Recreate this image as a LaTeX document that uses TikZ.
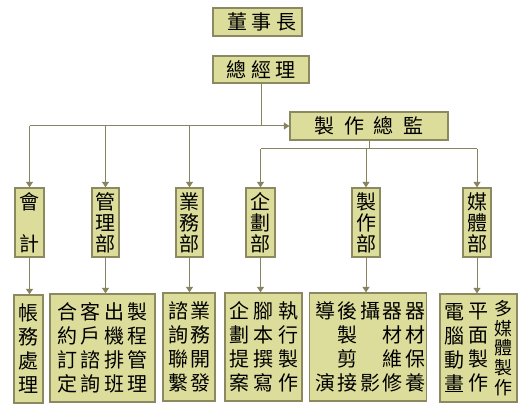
\documentclass[tikz,border=0pt]{standalone}
\usepackage{fontspec}
\newfontfamily\cjk{Noto Sans CJK TC}
\usetikzlibrary{arrows.meta}
\definecolor{boxfill}{RGB}{220,220,155}
\definecolor{boxline}{RGB}{140,136,96}
\definecolor{conline}{RGB}{135,130,95}
\newcommand\vc[2][23.5pt]{\parbox[c]{#1}{\centering #2}}
\begin{document}
\begin{tikzpicture}[x=1pt,y=-1pt,
  box/.style={draw=boxline, fill=boxfill, line width=1.2pt, inner sep=0pt, anchor=center},
  topbox/.style={box, font=\cjk\fontsize{20}{24}\selectfont},
  midbox/.style={box, align=center, font=\cjk\fontsize{20}{21}\selectfont, minimum height=69pt},
  listbox/.style={box, font=\cjk\fontsize{20}{24}\selectfont, minimum height=108pt},
  conn/.style={draw=conline, line width=1pt},
  arr/.style={conn, -{Triangle[width=7pt,length=5.5pt]}}]
\fill[white] (0,0) rectangle (527,411);
\useasboundingbox (0,0) rectangle (527,411);

% top level
\node[topbox, minimum width=89pt, minimum height=28pt] (chair) at (257.5,22) {\hspace{8pt}董\hspace{4.5pt}事\hspace{4.5pt}長};
\node[topbox, minimum width=96pt, minimum height=27pt] (gm) at (261,69.5) {總\hspace{4.5pt}經\hspace{4.5pt}理};
\node[topbox, minimum width=158pt, minimum height=28pt] (pd) at (369,126) {製\hspace{9.5pt}作\hspace{9.5pt}總\hspace{9.5pt}監};

% departments
\node[midbox, minimum width=29pt] (acct) at (29.5,222.5) {會\\\mbox{}\\計};
\node[midbox, minimum width=27pt] (mgmt) at (105.5,222.5) {管\\理\\部};
\node[midbox, minimum width=27pt] (biz) at (189.5,222.5) {業\\務\\部};
\node[midbox, minimum width=29pt] (plan) at (260.5,222.5) {企\\劃\\部};
\node[midbox, minimum width=28pt] (prod) at (366,222.5) {製\\作\\部};
\node[midbox, minimum width=28pt] (media) at (477,222.5) {媒\\體\\部};

% task lists
\node[listbox, minimum width=29pt] (l1) at (28.5,349) {\vc{帳\\務\\處\\理}};
\node[listbox, minimum width=105pt] (l2) at (102.5,348) {\vc{合\\約\\訂\\定}\vc{客\\戶\\諮\\詢}\vc{出\\機\\排\\班}\vc{製\\程\\管\\理}};
\node[listbox, minimum width=52pt] (l3) at (189,347) {\vc[22pt]{諮\\詢\\聯\\繫}\vc[22pt]{業\\務\\開\\發}};
\node[listbox, minimum width=77pt] (l4) at (263.5,347) {\vc[24.5pt]{企\\劃\\提\\案}\vc[24.5pt]{腳\\本\\撰\\寫}\vc[24.5pt]{執\\行\\製\\作}};
\node[listbox, minimum width=112pt] (l5) at (368,347) {\hspace{4pt}\vc[22.5pt]{導\\\mbox{}\\\mbox{}\\演}\vc[22.5pt]{後\\製\\剪\\接}\vc[22.5pt]{攝\\\mbox{}\\\mbox{}\\影}\vc[22.5pt]{器\\材\\維\\修}\vc[22.5pt]{器\\材\\保\\養}};
\node[listbox, minimum width=77pt] (l6) at (478.5,348) {\vc[24.5pt]{電\\腦\\動\\畫}\vc[24.5pt]{平\\面\\製\\作}\vc[24.5pt]{\fontsize{18}{19.7}\selectfont 多\\媒\\體\\製\\作}};

% connectors
\coordinate (busA) at (0,126);
\coordinate (busB) at (0,149);
\draw[conn] (gm.south) -- (gm.south |- busA);
\draw[conn] (acct.north |- busA) -- (gm.south |- busA);
\draw[arr] (gm.south |- busA) -- (pd.west);
\foreach \n in {acct,mgmt,biz} \draw[arr] (\n.north |- busA) -- (\n.north);
\draw[conn] (pd.south) -- (pd.south |- busB);
\draw[conn] (plan.north |- busB) -- (media.north |- busB);
\foreach \n in {plan,prod,media} \draw[arr] (\n.north |- busB) -- (\n.north);
\draw[arr] (acct.south) -- (acct.south |- l1.north);
\draw[arr] (mgmt.south) -- (mgmt.south |- l2.north);
\draw[arr] (biz.south) -- (biz.south |- l3.north);
\draw[arr] (plan.south) -- (plan.south |- l4.north);
\draw[arr] (prod.south) -- (prod.south |- l5.north);
\draw[arr] (media.south) -- (media.south |- l6.north);
\end{tikzpicture}
\end{document}
